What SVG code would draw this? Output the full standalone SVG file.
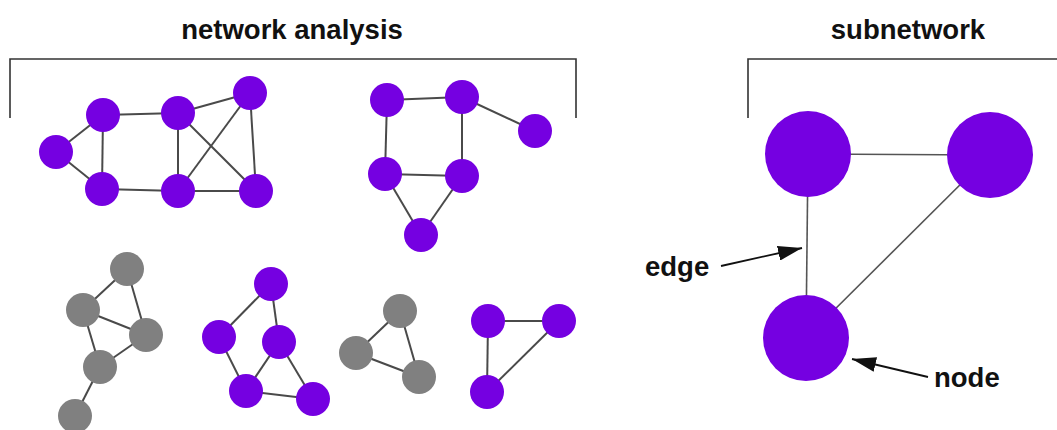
<svg xmlns="http://www.w3.org/2000/svg" width="1057" height="430" viewBox="0 0 1057 430">
<style>
.t{font-family:"Liberation Sans",Arial,sans-serif;font-weight:bold;font-size:27.5px;fill:#111}
.p{fill:#7500E1}
.g{fill:#808080}
.e{stroke:#4a4a4a;stroke-width:2;fill:none}
.se{stroke:#555;stroke-width:1.6;fill:none}
.br{stroke:#333;stroke-width:1.6;fill:none}
.ar{stroke:#111;stroke-width:1.8;fill:none}
</style>
<defs>
<marker id="ah" viewBox="0 0 10 10" refX="10" refY="5" markerWidth="24" markerHeight="15" markerUnits="userSpaceOnUse" orient="auto" preserveAspectRatio="none">
<path d="M0,0 L10,5 L0,10 z" fill="#111"/>
</marker>
</defs>
<rect width="1057" height="430" fill="#fff"/>
<g id="labels">
<text class="t" x="292" y="39" text-anchor="middle">network analysis</text>
<text class="t" x="908" y="39" text-anchor="middle">subnetwork</text>
<text class="t" x="645" y="276">edge</text>
<text class="t" x="934" y="387">node</text>
</g>
<g id="brackets">
<path class="br" d="M10,118 V59 H576 V118"/>
<path class="br" d="M748,118 V59 H1057"/>
</g>
<g id="connectors">
<line class="e" x1="56" y1="152" x2="103" y2="115"/>
<line class="e" x1="56" y1="152" x2="102" y2="189"/>
<line class="e" x1="103" y1="115" x2="102" y2="189"/>
<line class="e" x1="103" y1="115" x2="178" y2="113"/>
<line class="e" x1="102" y1="189" x2="178" y2="191"/>
<line class="e" x1="178" y1="113" x2="178" y2="191"/>
<line class="e" x1="178" y1="113" x2="250" y2="93"/>
<line class="e" x1="178" y1="113" x2="256" y2="191"/>
<line class="e" x1="178" y1="191" x2="250" y2="93"/>
<line class="e" x1="250" y1="93" x2="256" y2="191"/>
<line class="e" x1="178" y1="191" x2="256" y2="191"/>
<line class="e" x1="387" y1="100" x2="462" y2="97"/>
<line class="e" x1="462" y1="97" x2="535" y2="131"/>
<line class="e" x1="387" y1="100" x2="385" y2="174"/>
<line class="e" x1="462" y1="97" x2="462" y2="176"/>
<line class="e" x1="385" y1="174" x2="462" y2="176"/>
<line class="e" x1="385" y1="174" x2="421" y2="235"/>
<line class="e" x1="462" y1="176" x2="421" y2="235"/>
<line class="e" x1="127" y1="269" x2="83" y2="310"/>
<line class="e" x1="127" y1="269" x2="146" y2="335"/>
<line class="e" x1="83" y1="310" x2="146" y2="335"/>
<line class="e" x1="83" y1="310" x2="100" y2="367"/>
<line class="e" x1="146" y1="335" x2="100" y2="367"/>
<line class="e" x1="100" y1="367" x2="75" y2="416"/>
<line class="e" x1="271" y1="284" x2="219" y2="337"/>
<line class="e" x1="271" y1="284" x2="279" y2="342"/>
<line class="e" x1="219" y1="337" x2="246" y2="391"/>
<line class="e" x1="279" y1="342" x2="246" y2="391"/>
<line class="e" x1="279" y1="342" x2="313" y2="399"/>
<line class="e" x1="246" y1="391" x2="313" y2="399"/>
<line class="e" x1="400" y1="311" x2="356" y2="353"/>
<line class="e" x1="400" y1="311" x2="419" y2="377"/>
<line class="e" x1="356" y1="353" x2="419" y2="377"/>
<line class="e" x1="488" y1="321" x2="559" y2="321"/>
<line class="e" x1="488" y1="321" x2="487" y2="392"/>
<line class="e" x1="559" y1="321" x2="487" y2="392"/>
<line class="se" x1="808" y1="154" x2="990" y2="155"/>
<line class="se" x1="808" y1="154" x2="806" y2="338"/>
<line class="se" x1="990" y1="155" x2="806" y2="338"/>
<line class="ar" x1="721" y1="266" x2="802" y2="248" marker-end="url(#ah)"/>
<line class="ar" x1="928" y1="377" x2="852" y2="359" marker-end="url(#ah)"/>
</g>
<g id="n1"><circle class="p" cx="56" cy="152" r="17"/></g>
<g id="n2"><circle class="p" cx="103" cy="115" r="17"/></g>
<g id="n3"><circle class="p" cx="102" cy="189" r="17"/></g>
<g id="n4"><circle class="p" cx="178" cy="113" r="17"/></g>
<g id="n5"><circle class="p" cx="178" cy="191" r="17"/></g>
<g id="n6"><circle class="p" cx="250" cy="93" r="17"/></g>
<g id="n7"><circle class="p" cx="256" cy="191" r="17"/></g>
<g id="n8"><circle class="p" cx="387" cy="100" r="17"/></g>
<g id="n9"><circle class="p" cx="462" cy="97" r="17"/></g>
<g id="n10"><circle class="p" cx="535" cy="131" r="17"/></g>
<g id="n11"><circle class="p" cx="385" cy="174" r="17"/></g>
<g id="n12"><circle class="p" cx="462" cy="176" r="17"/></g>
<g id="n13"><circle class="p" cx="421" cy="235" r="17"/></g>
<g id="n14"><circle class="g" cx="127" cy="269" r="17"/></g>
<g id="n15"><circle class="g" cx="83" cy="310" r="17"/></g>
<g id="n16"><circle class="g" cx="146" cy="335" r="17"/></g>
<g id="n17"><circle class="g" cx="100" cy="367" r="17"/></g>
<g id="n18"><circle class="g" cx="75" cy="416" r="17"/></g>
<g id="n19"><circle class="p" cx="271" cy="284" r="17"/></g>
<g id="n20"><circle class="p" cx="219" cy="337" r="17"/></g>
<g id="n21"><circle class="p" cx="279" cy="342" r="17"/></g>
<g id="n22"><circle class="p" cx="246" cy="391" r="17"/></g>
<g id="n23"><circle class="p" cx="313" cy="399" r="17"/></g>
<g id="n24"><circle class="g" cx="400" cy="311" r="17"/></g>
<g id="n25"><circle class="g" cx="356" cy="353" r="17"/></g>
<g id="n26"><circle class="g" cx="419" cy="377" r="17"/></g>
<g id="n27"><circle class="p" cx="488" cy="321" r="17"/></g>
<g id="n28"><circle class="p" cx="559" cy="321" r="17"/></g>
<g id="n29"><circle class="p" cx="487" cy="392" r="17"/></g>
<g id="s1"><circle class="p" cx="808" cy="154" r="43"/></g>
<g id="s2"><circle class="p" cx="990" cy="155" r="43"/></g>
<g id="s3"><circle class="p" cx="806" cy="338" r="43"/></g>
</svg>
